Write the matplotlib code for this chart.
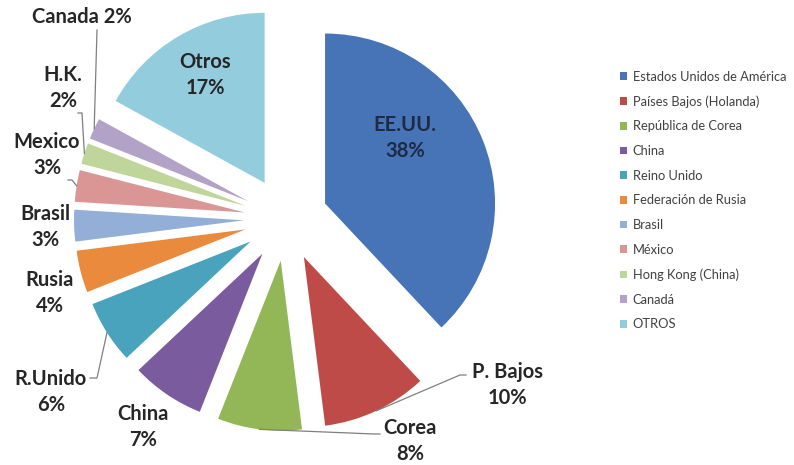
import numpy as np
import matplotlib
matplotlib.use('Agg')
import matplotlib.pyplot as plt
from matplotlib.patches import Patch

# exportaciones por destino (%)
paises = ['Estados Unidos de América', 'Países Bajos (Holanda)', 'República de Corea',
          'China', 'Reino Unido', 'Federación de Rusia', 'Brasil', 'México',
          'Hong Kong (China)', 'Canadá', 'OTROS']
etiquetas = ['EE.UU.', 'P. Bajos', 'Corea', 'China', 'R.Unido', 'Rusia', 'Brasil',
             'Mexico', 'H.K.', 'Canada', 'Otros']
valores = [38, 10, 8, 7, 6, 4, 3, 3, 2, 2, 17]
colores = ['#4674B6', '#BE4B48', '#93B657', '#7A5C9E', '#4AA3BC', '#E98A3C',
           '#93AFD7', '#D99694', '#C0D59A', '#B3A2C7', '#93CDDD']

plt.rcParams['font.family'] = ['Lato', 'DejaVu Sans']

fig = plt.figure(figsize=(7.94, 4.65), dpi=100)
ax = fig.add_axes([0, 0, 1, 1])

centro = (286, 246)
radio = 170
sep = 42
wedges, _ = ax.pie(valores, colors=colores, startangle=90, counterclock=False,
                   radius=radio, center=centro, explode=[sep] * len(valores),
                   wedgeprops=dict(linewidth=0), frame=True)
ax.set_xlim(0, 794)
ax.set_ylim(0, 465)
ax.set_aspect('equal')
ax.axis('off')


def borde(w):
    # punto medio del arco exterior de la porcion
    t = np.deg2rad((w.theta1 + w.theta2) / 2)
    cx, cy = w.center
    return cx + w.r * np.cos(t), cy + w.r * np.sin(t)


# posiciones de las etiquetas (pixeles, y hacia abajo)
pos_txt = {
    'EE.UU.': (405, 138), 'P. Bajos': (507, 385), 'Corea': (410, 441),
    'China': (143, 427), 'R.Unido': (51, 392), 'Rusia': (50, 293),
    'Brasil': (45, 227), 'Mexico': (47, 155), 'H.K.': (63, 88),
    'Otros': (205, 75),
}
for nombre, v in zip(etiquetas, valores):
    color_txt = '#1F2A44' if nombre == 'EE.UU.' else '#262626'
    if nombre == 'Canada':
        ax.text(82, 465 - 17, f'{nombre} {v}%', ha='center', va='center',
                fontsize=14.5, fontweight='bold', color=color_txt)
        continue
    x, y = pos_txt[nombre]
    ax.text(x, 465 - y, f'{nombre}\n{v}%', ha='center', va='center',
            fontsize=14.5, fontweight='bold', color=color_txt, linespacing=1.4)

# lineas guia
guias = {
    'Canada': [(97, 30)],
    'H.K.': [(78, 113), (82, 113)],
    'Mexico': [(68, 180), (72, 180)],
    'R.Unido': [(90, 378), (97, 378)],
    'Corea': [(380, 434), (374, 434)],
    'P. Bajos': [(466, 375), (460, 375)],
}
for nombre, pts in guias.items():
    w = wedges[etiquetas.index(nombre)]
    bx, by = borde(w)
    xs = [p[0] for p in pts] + [bx]
    ys = [465 - p[1] for p in pts] + [by]
    ax.plot(xs, ys, color='#7F7F7F', lw=0.9)

handles = [Patch(facecolor=c, edgecolor='none') for c in colores]
fig.legend(handles, paises, loc='upper left', bbox_to_anchor=(608 / 794, 1 - 59 / 465),
           frameon=False, fontsize=9.3, handlelength=0.55, handleheight=0.55,
           handletextpad=0.45, labelspacing=0.98, labelcolor='#404040')

fig.savefig('out.png', dpi=100)
